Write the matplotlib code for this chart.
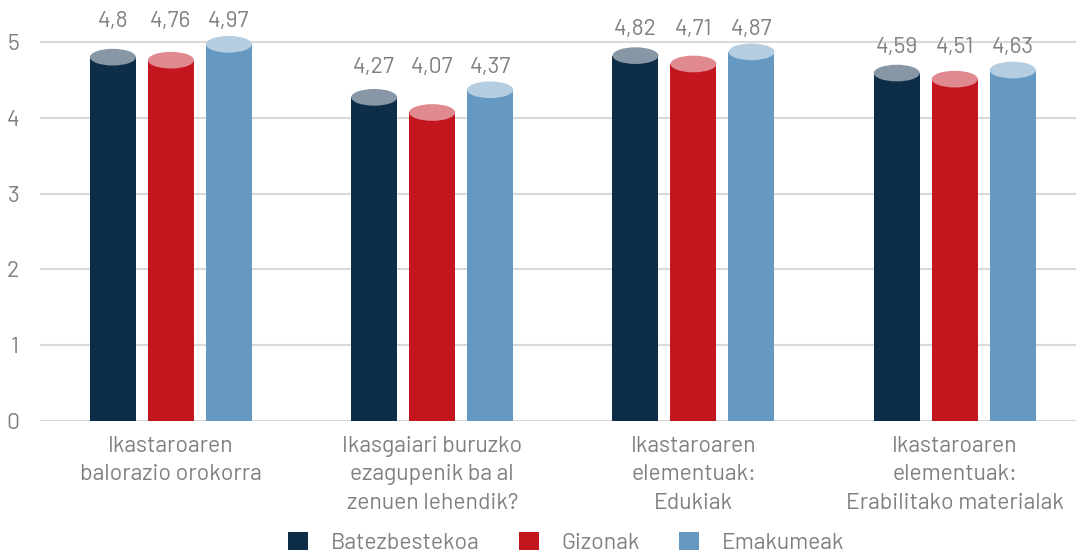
import matplotlib
matplotlib.use("Agg")
import matplotlib.pyplot as plt
from matplotlib.patches import Ellipse, Patch
import numpy as np

plt.rcParams['font.family'] = ['Barlow', 'DejaVu Sans']

categories = [
    "Ikastaroaren\nbalorazio orokorra",
    "Ikasgaiari buruzko\nezagupenik ba al\nzenuen lehendik?",
    "Ikastaroaren\nelementuak:\nEdukiak",
    "Ikastaroaren\nelementuak:\nErabilitako materialak",
]
series_names = ["Batezbestekoa", "Gizonak", "Emakumeak"]
batezbestekoa = [4.8, 4.27, 4.82, 4.59]
gizonak = [4.76, 4.07, 4.71, 4.51]
emakumeak = [4.97, 4.37, 4.87, 4.63]

body_colors = ["#0e2d48", "#c3161f", "#6699c1"]
top_colors = ["#8797a6", "#e08a90", "#b4cde1"]
text_color = "#808080"

fig = plt.figure(figsize=(10.76, 5.53), dpi=100)
ax = fig.add_axes([40 / 1076, 1 - 421 / 553, 1 - 40 / 1076, 421 / 553])

x = np.arange(len(categories))
offsets = [-0.222, 0.0, 0.222]
width = 0.176
cap_h = 0.22

for i, vals in enumerate([batezbestekoa, gizonak, emakumeak]):
    xs = x + offsets[i]
    ax.bar(xs, vals, width=width, color=body_colors[i], zorder=3)
    for xi, v in zip(xs, vals):
        ax.add_patch(Ellipse((xi, v), width, cap_h, facecolor=top_colors[i],
                             edgecolor="none", zorder=4))

# value labels
for g in range(len(categories)):
    vals = [batezbestekoa[g], gizonak[g], emakumeak[g]]
    top = max(vals) + 0.3
    for i, v in enumerate(vals):
        ax.text(x[g] + offsets[i], top, f"{v:g}".replace(".", ","),
                ha="center", va="center", fontsize=16.5, color=text_color, zorder=5)

ax.set_ylim(0, 5.554)
ax.set_xlim(-0.501, 3.464)
ax.set_yticks(range(6))
ax.yaxis.grid(True, color="#d9d9d9", linewidth=1.5, zorder=0)
ax.set_axisbelow(True)
ax.set_xticks(x)
ax.set_xticklabels(categories, fontsize=16.5, color=text_color, linespacing=1.45)
ax.tick_params(axis="x", length=0, pad=11)
ax.tick_params(axis="y", length=0, pad=15, labelsize=16.5, labelcolor=text_color)
for s in ax.spines.values():
    s.set_visible(False)

handles = [Patch(facecolor=c, edgecolor="none") for c in body_colors]
fig.legend(handles, series_names, loc="center", ncol=3, frameon=False,
           bbox_to_anchor=(566 / 1076, 1 - 543 / 553), fontsize=16.5,
           labelcolor=text_color, handlelength=0.87, handleheight=0.87,
           columnspacing=1.7, handletextpad=1.0, borderpad=0)

fig.savefig("out.png", dpi=100)
